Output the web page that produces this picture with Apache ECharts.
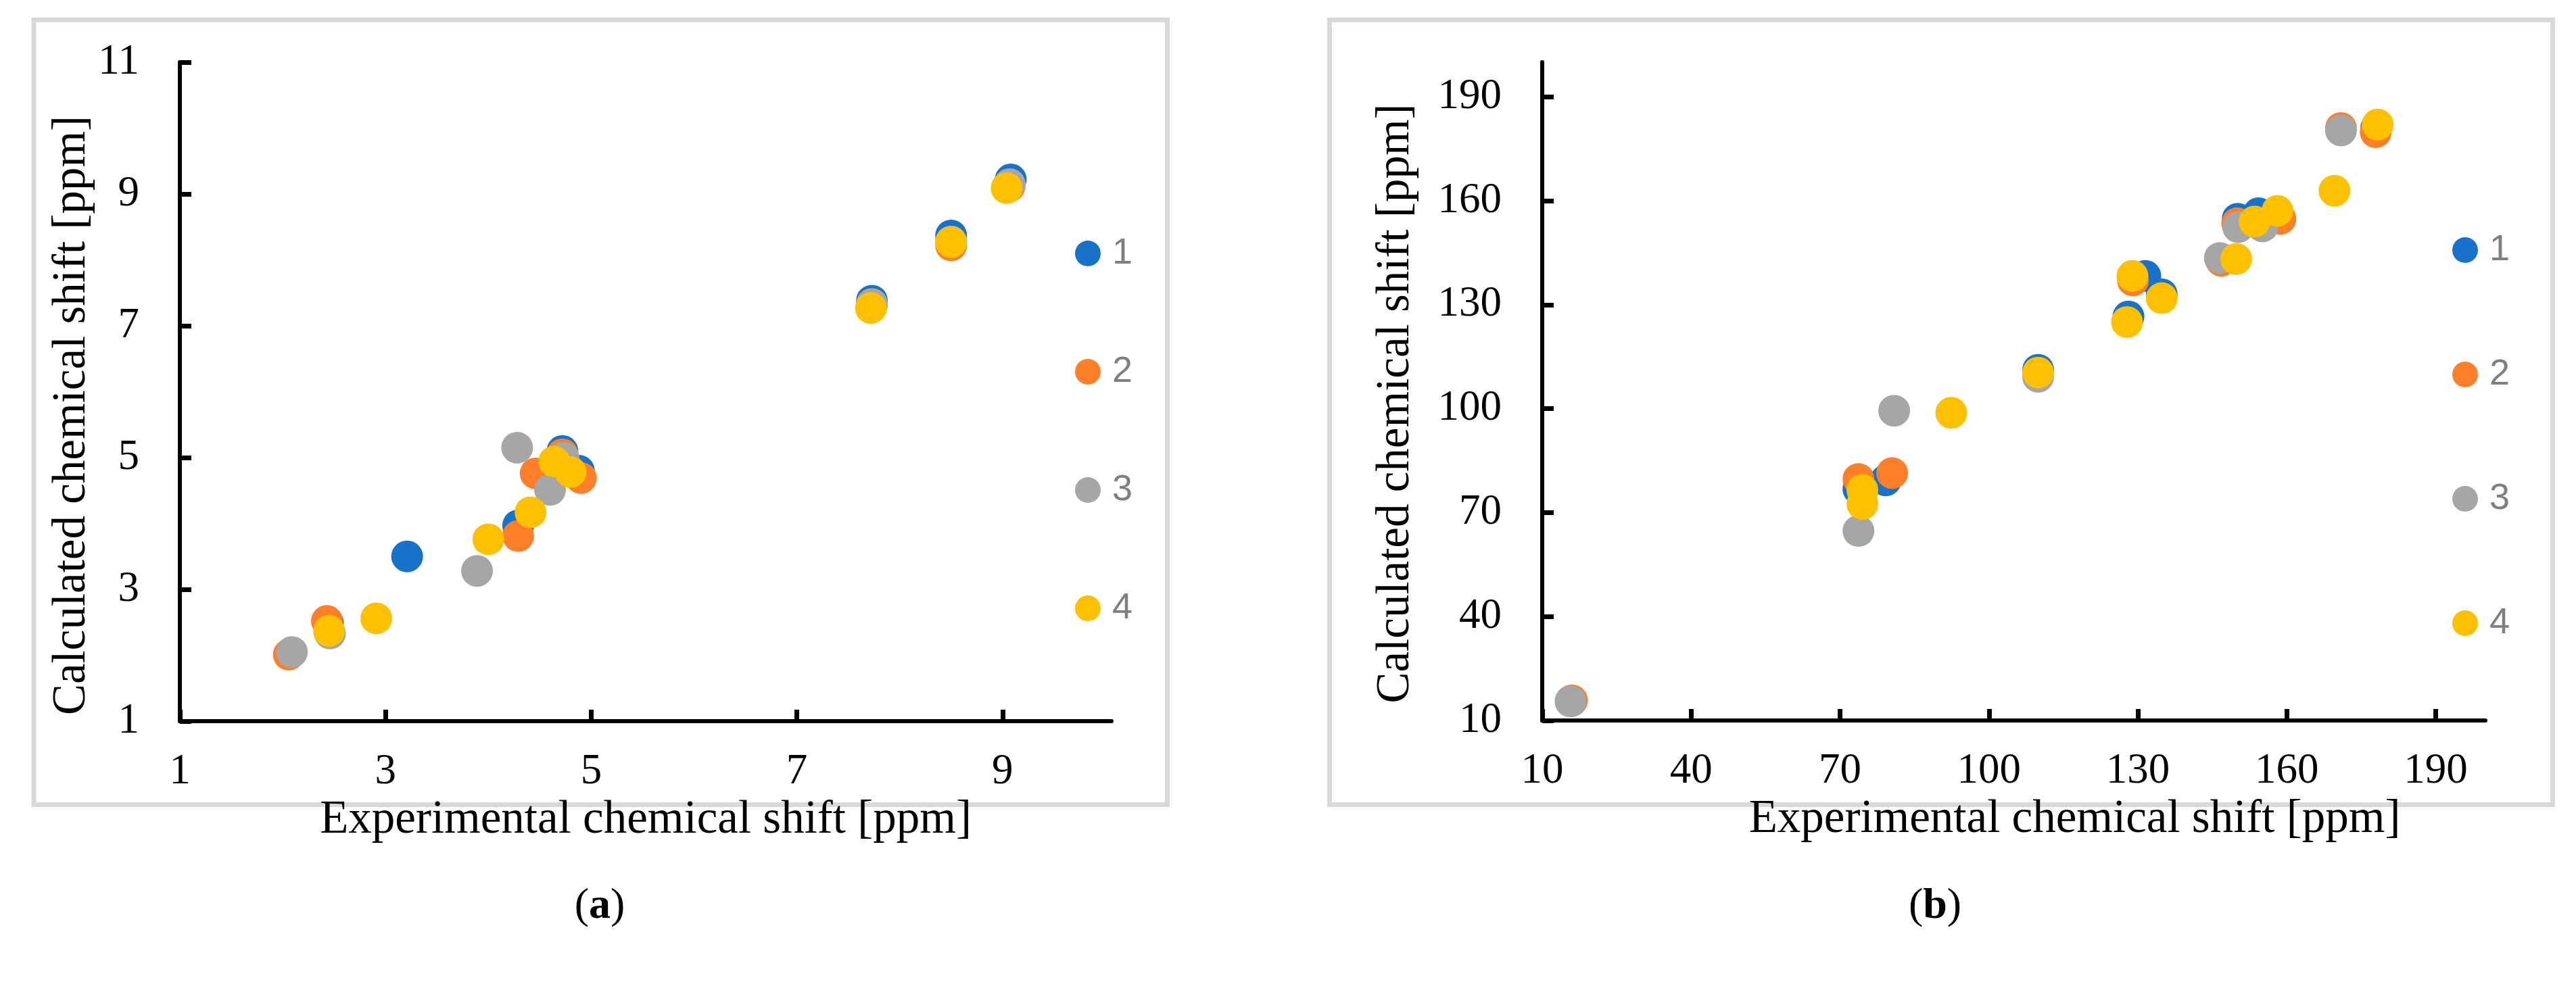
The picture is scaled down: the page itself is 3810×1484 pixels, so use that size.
<!DOCTYPE html>
<html>
<head>
<meta charset="utf-8">
<title>Calculated vs experimental chemical shift</title>
<script src="https://cdn.jsdelivr.net/npm/echarts@6/dist/echarts.min.js"></script>
<style>
  html, body { margin: 0; padding: 0; background: #fff; }
  #chart { width: 3810px; height: 1484px; }
</style>
</head>
<body>
<div id="chart"></div>
<script>
// series names (compounds)
var seriesNames = ['1', '2', '3', '4'];

// (a) 1H shifts: [experimental, calculated]
var hShift1 = [[2.44, 2.49], [3.21, 3.50], [4.29, 3.97], [4.72, 5.10], [4.88, 4.80], [7.73, 7.38], [8.50, 8.37], [9.08, 9.22]];
var hShift2 = [[2.06, 2.01], [2.43, 2.52], [4.29, 3.81], [4.46, 4.76], [4.72, 5.05], [4.90, 4.69], [7.73, 7.32], [8.50, 8.22], [9.07, 9.12]];
var hShift3 = [[2.09, 2.05], [2.46, 2.33], [3.89, 3.28], [4.28, 5.15], [4.60, 4.51], [4.73, 5.00], [7.73, 7.33], [8.50, 8.28], [9.07, 9.15]];
var hShift4 = [[2.45, 2.37], [2.91, 2.56], [4.00, 3.76], [4.41, 4.17], [4.64, 4.94], [4.80, 4.78], [7.72, 7.27], [8.50, 8.27], [9.04, 9.09]];

// (b) 13C shifts: [experimental, calculated]
var cShift1 = [[15.8, 15.6], [73.7, 76.8], [79.2, 79.3], [109.9, 111.2], [128.1, 126.6], [131.5, 138.3], [134.8, 133.0], [150.1, 154.8], [154.3, 156.4], [178.0, 181.0]];
var cShift2 = [[16.0, 15.8], [73.7, 79.7], [80.5, 81.4], [129.0, 137.0], [146.8, 142.7], [150.0, 153.5], [158.7, 154.8], [170.9, 181.0], [177.9, 179.8]];
var cShift3 = [[15.7, 15.5], [73.7, 64.7], [80.9, 99.4], [109.9, 109.2], [146.5, 143.5], [150.2, 152.4], [155.1, 152.6], [170.9, 180.3]];
var cShift4 = [[74.5, 76.5], [74.5, 72.5], [92.4, 98.8], [109.9, 110.4], [127.8, 125.0], [128.9, 138.3], [134.8, 131.9], [149.8, 143.2], [153.5, 154.0], [158.1, 157.1], [169.6, 162.9], [178.3, 182.0]];

// tick labels
var hTicksX = [1, 3, 5, 7, 9];
var hTicksY = [1, 3, 5, 7, 9, 11];
var cTicks = [10, 40, 70, 100, 130, 160, 190];

var colors = ['#1872c9', '#fe7f2a', '#a6a6a6', '#ffc000'];
var serif = "'Times New Roman', 'Liberation Serif', serif";

function valueAxis(opt) {
    return {
        type: 'value',
        gridIndex: opt.grid,
        min: opt.min,
        max: opt.max,
        name: opt.name,
        nameLocation: 'middle',
        nameGap: opt.nameGap,
        nameTextStyle: {
            fontFamily: serif,
            fontSize: 69,
            lineHeight: 69,
            color: '#000',
            padding: opt.namePadding || 0
        },
        splitLine: { show: false },
        axisLine: { onZero: false, lineStyle: { color: '#000', width: 6 } },
        axisTick: {
            inside: true,
            length: 17,
            customValues: opt.ticks,
            lineStyle: { color: '#000', width: 7 }
        },
        axisLabel: {
            customValues: opt.ticks,
            margin: opt.labelMargin,
            fontFamily: serif,
            fontSize: 63,
            color: '#000'
        }
    };
}

function legendFor(x, top, gap) {
    return {
        data: seriesNames,
        orient: 'vertical',
        left: x,
        top: top,
        itemGap: gap,
        itemWidth: 38,
        itemHeight: 38,
        icon: 'circle',
        selectedMode: false,
        textStyle: {
            fontFamily: "'Liberation Sans', Arial, sans-serif",
            fontSize: 54,
            lineHeight: 38,
            color: '#7f7f7f',
            padding: [0, 0, 0, 12]
        }
    };
}

function scatter(name, grid, data) {
    return {
        type: 'scatter',
        name: name,
        xAxisIndex: grid,
        yAxisIndex: grid,
        symbol: 'circle',
        symbolSize: 47,
        itemStyle: { opacity: 1 },
        data: data
    };
}

var chart = echarts.init(document.getElementById('chart'));

var option = {
    backgroundColor: '#fff',
    animation: false,
    color: colors,
    grid: [
        { left: 266, top: 92, width: 1378, height: 975, outerBoundsMode: 'none' },
        { left: 2281, top: 92, width: 1395, height: 974, outerBoundsMode: 'none' }
    ],
    xAxis: [
        valueAxis({ grid: 0, min: 1, max: 10.06, ticks: hTicksX, labelMargin: 44,
            name: 'Experimental chemical shift [ppm]', nameGap: 77 }),
        valueAxis({ grid: 1, min: 10, max: 200, ticks: cTicks, labelMargin: 44,
            name: 'Experimental chemical shift [ppm]', nameGap: 68, namePadding: [0, 0, 0, 180] })
    ],
    yAxis: [
        valueAxis({ grid: 0, min: 1, max: 11, ticks: hTicksY, labelMargin: 60,
            name: 'Calculated chemical shift [ppm]', nameGap: 108, namePadding: [0, 70, 0, 0] }),
        valueAxis({ grid: 1, min: 10, max: 200, ticks: cTicks, labelMargin: 60,
            name: 'Calculated chemical shift [ppm]', nameGap: 182, namePadding: [0, 36, 0, 0] })
    ],
    legend: [
        legendFor(1585, 343, 121),
        legendFor(3622, 338, 130)
    ],
    series: [
        scatter('1', 0, hShift1),
        scatter('2', 0, hShift2),
        scatter('3', 0, hShift3),
        scatter('4', 0, hShift4),
        scatter('1', 1, cShift1),
        scatter('2', 1, cShift2),
        scatter('3', 1, cShift3),
        scatter('4', 1, cShift4)
    ],
    graphic: [
        // panel frames
        { type: 'rect', shape: { x: 50, y: 29.5, width: 1676.5, height: 1161 },
          style: { fill: 'none', stroke: '#d9d9d9', lineWidth: 7 }, silent: true },
        { type: 'rect', shape: { x: 1966.5, y: 29.5, width: 1809, height: 1161 },
          style: { fill: 'none', stroke: '#d9d9d9', lineWidth: 7 }, silent: true },
        // captions
        { type: 'text', x: 887, y: 1341,
          style: { text: '({b|a})', align: 'center', verticalAlign: 'middle',
                   fontFamily: serif, fontSize: 64, fill: '#000',
                   rich: { b: { fontFamily: serif, fontSize: 64, fontWeight: 'bold' } } } },
        { type: 'text', x: 2862, y: 1341,
          style: { text: '({b|b})', align: 'center', verticalAlign: 'middle',
                   fontFamily: serif, fontSize: 64, fill: '#000',
                   rich: { b: { fontFamily: serif, fontSize: 64, fontWeight: 'bold' } } } }
    ]
};

chart.setOption(option);
</script>
</body>
</html>
